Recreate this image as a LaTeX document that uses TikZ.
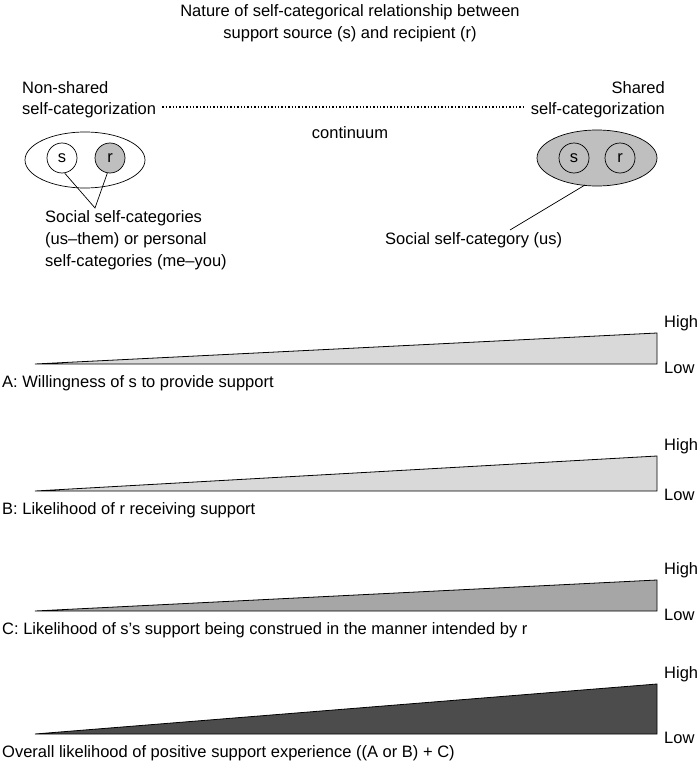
\documentclass[tikz,border=0pt]{standalone}
\usepackage{fontspec}
\setmainfont{Liberation Sans}
\usepackage{tikz}

\begin{document}
\begin{tikzpicture}[x=1pt,y=-1pt,
    txt/.style={font=\fontsize{16.5}{18}\selectfont,inner sep=0pt},
    wedge/.style={draw=black,line width=0.8pt},
    pers/.style={draw=black,circle,minimum size=30pt,inner sep=0pt,line width=0.7pt,font=\fontsize{16.5}{18}\selectfont}]
    \useasboundingbox (0,0) rectangle (700,773);
    % title
    \node[txt] (title1) at (350,12) {Nature of self-categorical relationship between};
    \node[txt] (title2) at (350,34) {support source (s) and recipient (r)};
    % continuum
    \node[txt,anchor=west] (nsh) at (22,88) {Non-shared};
    \node[txt,anchor=west] (nscat) at (22,110) {self-categorization};
    \node[txt,anchor=east] (sh) at (665,88) {Shared};
    \node[txt,anchor=east] (scat) at (665,110) {self-categorization};
    \draw[dotted,line width=1.4pt] ([xshift=6pt,yshift=3pt]nscat.east) -- ([xshift=-6pt,yshift=3pt]scat.west);
    \node[txt] (cont) at (350,133) {continuum};
    % non-shared ellipse
    \draw[line width=0.7pt,fill=white] (85,160) ellipse (60 and 28);
    \node[pers] (sl) at (62,158) {s};
    \node[pers,fill=black!25] (rl) at (110,158) {r};
    \coordinate (jl) at (95,208);
    \draw[line width=0.7pt] (sl.280) -- (jl) -- (rl.260);
    \node[txt,anchor=west] (lab1) at (45,218) {Social self-categories};
    \node[txt,anchor=west] (lab2) at (45,240) {(us--them) or personal};
    \node[txt,anchor=west] (lab3) at (45,262) {self-categories (me--you)};
    % shared ellipse
    \draw[line width=0.7pt,fill=black!25] (597,158) ellipse (60 and 28);
    \node[pers,fill=black!25] (sr) at (574,158) {s};
    \node[pers,fill=black!25] (rr) at (620,158) {r};
    \coordinate (er) at (585,185);
    \node[txt,anchor=west] (lab4) at (385,240) {Social self-category (us)};
    \draw[line width=0.7pt] (er) -- (510,230);
    % wedges
    \foreach \yb/\yt/\shade/\lbl [count=\i] in {364/333/15/{A: Willingness of s to provide support},
        491/456/15/{B: Likelihood of r receiving support},
        611/580/35/{C: Likelihood of s's support being construed in the manner intended by r},
        734/684/70/{Overall likelihood of positive support experience ((A or B) + C)}}{
        \draw[wedge,fill=black!\shade] (35,\yb) -- (657,\yt) -- (657,\yb) -- cycle;
        \node[txt,anchor=west] (hi\i) at (664,\yt-10) {High};
        \node[txt,anchor=west] (lo\i) at (664,\yb+4) {Low};
        \node[txt,anchor=west] (lb\i) at (2,\yb+19) {\lbl};
    }
\end{tikzpicture}
\end{document}
